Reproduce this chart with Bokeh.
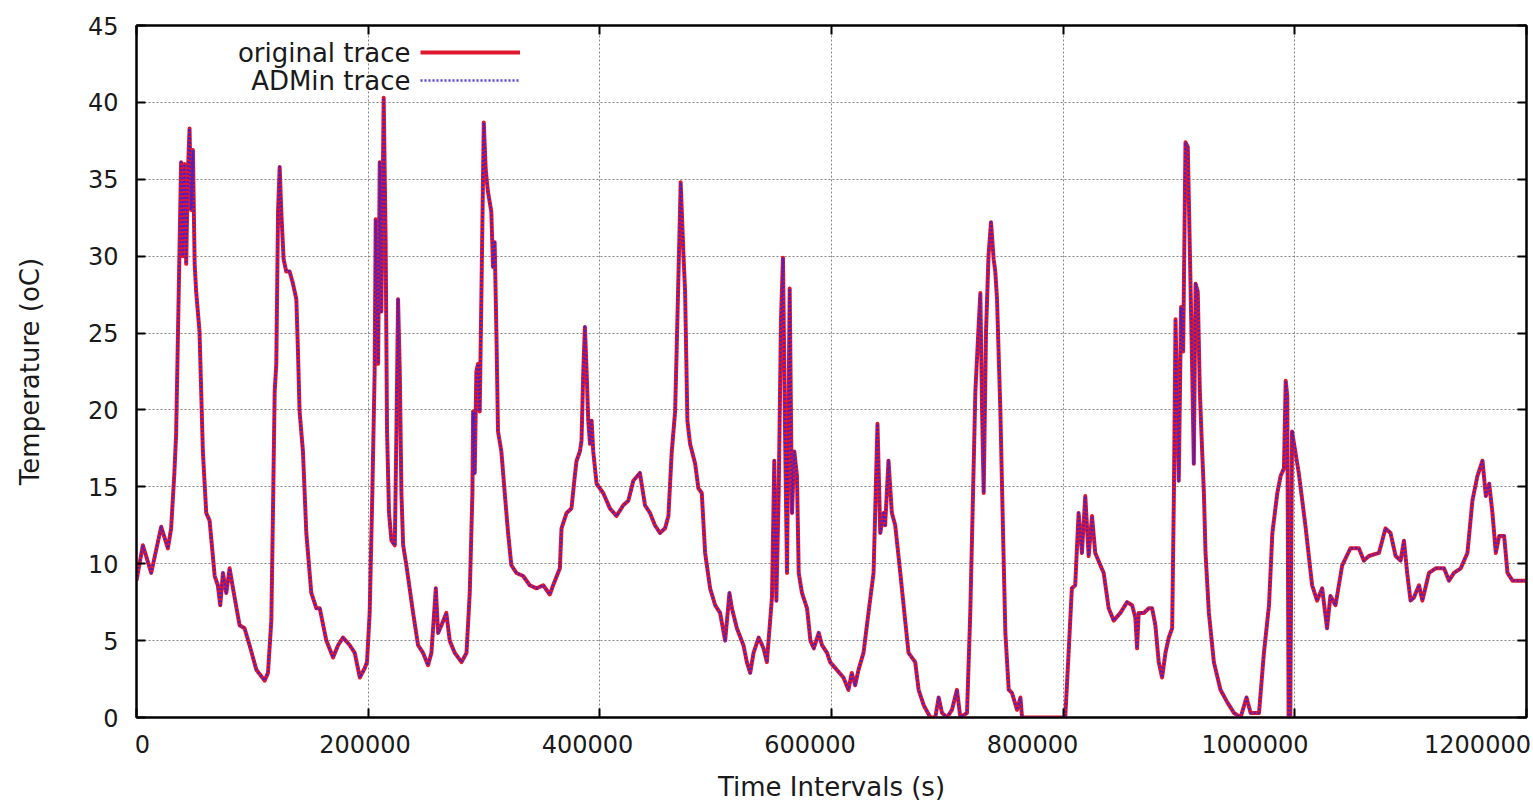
from bokeh.plotting import figure
from bokeh.models import Range1d, FixedTicker, LinearAxis, Legend, LegendItem, Label
from bokeh.embed import file_html
from bokeh.resources import INLINE
from bokeh.core.properties import value

# ---------------- data (time in s, temperature in oC) ----------------
seg_1 = [(0, 8.9), (5500, 11.2), (12700, 9.4), (21300, 12.4), (27100, 11.0), (29900, 12.3),
         (32700, 15.9), (34200, 18.4), (37100, 30.3), (38500, 36.1), (39900, 30.0), (41400, 36.0),
         (42900, 29.5), (44400, 35.5), (45800, 38.3), (47200, 33.0), (48700, 36.9), (50200, 29.5),
         (51500, 27.7), (54400, 25.1), (57300, 17.3), (60200, 13.3), (63100, 12.8), (67500, 9.2),
         (70200, 8.6), (72300, 7.3), (74600, 9.4), (77500, 8.1), (80400, 9.7), (83300, 8.4),
         (89000, 6.0), (93300, 5.8), (97600, 4.7), (103500, 3.1), (110600, 2.4), (113500, 2.9),
         (116400, 6.3), (117800, 13.3), (119300, 21.2), (120700, 23.0), (122200, 32.9), (123600, 35.8),
         (125000, 32.9), (127000, 29.8), (129300, 29.0), (132200, 29.0), (135100, 28.2), (138000, 27.2),
         (139400, 23.8), (140800, 19.9), (143700, 17.3), (146600, 12.0), (150900, 8.1), (155300, 7.1),
         (158200, 7.1), (163900, 5.0), (169700, 3.9), (174000, 4.7), (178300, 5.2), (184100, 4.7),
         (188400, 4.2), (192800, 2.6), (197000, 3.2)]
seg_2 = [(199000, 3.6), (201300, 6.8), (203600, 14.6), (205600, 22.5), (206500, 32.4), (208600, 23.0),
         (210000, 36.1), (211400, 26.4), (213400, 40.3), (215100, 30.9), (216300, 18.6), (218000, 13.3),
         (220100, 11.5), (223000, 11.2), (224400, 18.6), (225800, 27.2), (227300, 22.5), (228700, 14.6),
         (230200, 11.2), (233000, 9.9), (238800, 6.8), (243100, 4.7), (247400, 4.2), (251700, 3.4),
         (254600, 4.2), (258400, 8.4), (260400, 5.5), (263300, 6.0), (267500, 6.8), (270400, 5.0),
         (274800, 4.2), (280600, 3.6), (284900, 4.2), (287700, 8.1), (290000, 14.6), (290600, 19.9),
         (292000, 15.9), (293400, 22.5), (294900, 23.0), (296300, 19.9), (297800, 27.7), (299800, 38.7),
         (301500, 35.6), (303400, 34.2), (306300, 32.9), (307800, 29.3), (309200, 30.9), (310700, 25.1),
         (312100, 18.6), (315000, 17.3), (317900, 14.6), (320800, 12.0), (323600, 9.9), (328000, 9.4),
         (333800, 9.2), (339500, 8.6), (345300, 8.4), (351100, 8.6), (356800, 8.0), (359700, 8.6),
         (365500, 9.7), (366900, 12.3), (371300, 13.3), (375500, 13.6), (378400, 15.7), (379900, 16.7),
         (382800, 17.3), (384200, 18.0), (385700, 22.5), (387100, 25.4), (388600, 22.5), (390000, 19.3),
         (391500, 17.8), (392900, 19.3), (394300, 17.3), (397200, 15.2)]
seg_3 = [(402900, 14.6), (408700, 13.6), (414400, 13.1), (420200, 13.8), (424600, 14.1), (428900, 15.4),
         (434600, 15.9), (439000, 13.8), (443300, 13.3), (447600, 12.5), (451900, 12.0), (456300, 12.3),
         (459200, 13.1), (462100, 17.3), (465000, 19.9), (466300, 23.8), (467800, 28.5), (469800, 34.8),
         (472100, 30.3), (473600, 27.7), (475600, 19.3), (477900, 17.8), (482300, 16.5), (485100, 14.9),
         (488000, 14.6), (490900, 10.7), (495200, 8.4), (499600, 7.3), (503800, 6.8), (508200, 5.0),
         (511900, 8.1), (514000, 7.1), (518300, 5.8), (524000, 4.7), (526900, 3.6), (529800, 2.9),
         (532700, 4.2), (537100, 5.2), (541300, 4.5), (544200, 3.6), (548600, 7.8), (550600, 16.7),
         (552400, 7.6), (554400, 14.6), (556400, 25.9), (558100, 29.9), (560100, 17.3), (561600, 9.4),
         (563900, 27.9), (565900, 13.3), (567900, 17.3), (570200, 15.7), (571700, 9.4), (574500, 8.1),
         (578900, 7.1), (581800, 5.0), (584700, 4.5), (589000, 5.5), (591800, 4.7), (596200, 4.2)]
seg_4 = [(598800, 3.6), (604600, 3.1), (610300, 2.6), (614600, 1.8), (617500, 2.9), (620400, 2.1),
         (623300, 3.1), (627600, 4.2), (631900, 6.8), (636300, 9.4), (637700, 13.3), (639700, 19.1),
         (642100, 12.0), (645000, 13.3), (646300, 12.5), (649200, 16.7), (652100, 13.3), (655000, 12.5),
         (659400, 9.4), (663600, 6.3), (666500, 4.2), (672300, 3.6), (675200, 1.8), (679600, 0.8),
         (685300, 0.0), (689600, 0.0), (692500, 1.3), (695400, 0.3), (699600, 0.0), (704000, 0.5),
         (708300, 1.8), (711200, 0.0), (717000, 0.3), (719800, 6.8), (722200, 14.6), (724200, 21.2),
         (727100, 25.6), (728500, 27.6), (730000, 19.9), (731400, 14.6), (733400, 25.1), (735600, 30.1),
         (737700, 32.2), (740000, 29.8), (741400, 29.0), (742900, 27.2), (745800, 19.9), (748100, 12.0),
         (750100, 5.5), (753000, 1.8), (755800, 1.6), (760200, 0.5), (763100, 1.3), (764500, 0.0)]
seg_5 = [(801800, 0.0), (804700, 4.2), (807500, 8.4), (810400, 8.6), (813300, 13.3), (816200, 10.7),
         (819100, 14.4), (822000, 10.5), (824900, 13.1), (827700, 10.7), (832100, 9.9), (835000, 9.4),
         (839300, 7.1), (843600, 6.3), (849400, 6.8), (855200, 7.5), (859500, 7.3), (862300, 6.5),
         (863800, 4.5), (865200, 6.8), (869600, 6.8), (873900, 7.1), (876800, 7.1), (879600, 6.0),
         (882500, 3.6), (885400, 2.6), (888300, 4.2), (891200, 5.2), (894100, 5.8), (895600, 14.6),
         (897000, 25.9), (899800, 15.4), (901800, 26.7), (903600, 23.8), (905600, 37.4), (907600, 37.1),
         (909400, 30.3), (911400, 22.5), (912800, 16.5), (914300, 28.2), (916200, 27.7), (918000, 21.2),
         (920000, 17.3), (921500, 14.6), (922900, 10.7), (925800, 6.8), (930100, 3.6), (935800, 1.8),
         (941600, 1.0), (947400, 0.3), (953100, 0.0), (958300, 1.3), (961800, 0.3), (969100, 0.3),
         (973300, 4.2), (977700, 7.3), (980600, 12.0), (984900, 14.6), (987700, 15.7), (990600, 16.2),
         (992100, 21.9), (993500, 20.9)]
seg_6 = [(994600, 0.0), (996100, 0.0), (997600, 18.6), (1003400, 15.9), (1009100, 12.5),
         (1014900, 8.6), (1019200, 7.6), (1023600, 8.4), (1027800, 5.8), (1030700, 7.9), (1035100, 7.3),
         (1040900, 9.9), (1048000, 11.0), (1055300, 11.0), (1059600, 10.2), (1063900, 10.5),
         (1072600, 10.7), (1078300, 12.3), (1082600, 12.0), (1087000, 10.5), (1091300, 10.2),
         (1094200, 11.5), (1097000, 9.4), (1099900, 7.6), (1102800, 7.8), (1107200, 8.6), (1110100, 7.6),
         (1115800, 9.4), (1121600, 9.7), (1128800, 9.7), (1133100, 8.9), (1137400, 9.4), (1143200, 9.7),
         (1149000, 10.7), (1153300, 14.1), (1157600, 15.7), (1162000, 16.7), (1164900, 14.4),
         (1167800, 15.2), (1170600, 13.3), (1173500, 10.7), (1176400, 11.8), (1180700, 11.8),
         (1183600, 9.4), (1187900, 8.9), (1200000, 8.9)]

segments = [seg_1, seg_2, seg_3, seg_4, seg_5, seg_6]
time_s = [t for seg in segments for t, _ in seg]
original_temp = [v for seg in segments for _, v in seg]
admin_temp = [v for seg in segments for _, v in seg]   # ADMin trace follows the original

x_ticks = [0, 200000, 400000, 600000, 800000, 1000000, 1200000]
x_tick_labels = ["0", "200000", "400000", "600000", "800000", "1000000", "1200000"]
y_ticks = [0, 5, 10, 15, 20, 25, 30, 35, 40, 45]
y_tick_labels = ["0", "5", "10", "15", "20", "25", "30", "35", "40", "45"]
series_names = ["original trace", "ADMin trace"]
x_title = "Time Intervals (s)"
y_title = "Temperature (oC)"

FONT = "DejaVu Sans"
TXT = "#1a1a1a"
RED = "#e0182f"
BLUE = "#3b1fd6"

p = figure(width=1533, height=805, output_backend="svg", toolbar_location=None,
           x_range=Range1d(0, 1200000), y_range=Range1d(0, 45),
           min_border_left=136, min_border_right=7, min_border_top=25, min_border_bottom=88,
           background_fill_color="white", border_fill_color="white")
p.outline_line_color = "black"
p.outline_line_width = 2

xt = FixedTicker(ticks=x_ticks)
yt = FixedTicker(ticks=y_ticks)
xax = p.below[0]
yax = p.left[0]
xax.ticker = xt
yax.ticker = yt
p.xgrid.ticker = xt
p.ygrid.ticker = yt


def tick_style(ax):
    ax.axis_line_color = "black"
    ax.axis_line_width = 2
    ax.major_tick_in = 9
    ax.major_tick_out = 0
    ax.major_tick_line_color = "black"
    ax.major_tick_line_width = 2
    ax.minor_tick_line_color = None


# bottom axis: ticks only (labels are drawn by the label axis below it)
tick_style(xax)
xax.major_label_overrides = {t: "" for t in x_ticks}
xax.major_label_text_font_size = "1px"
xax.major_label_standoff = 0

# left axis
tick_style(yax)
yax.major_label_overrides = dict(zip(y_ticks, y_tick_labels))
yax.major_label_text_font = FONT
yax.major_label_text_font_size = "24px"
yax.major_label_text_color = TXT
yax.major_label_standoff = 18
yax.axis_label = y_title
yax.axis_label_text_font = FONT
yax.axis_label_text_font_size = "26px"
yax.axis_label_text_font_style = "normal"
yax.axis_label_text_color = TXT
yax.axis_label_standoff = 40

# x tick labels, laid out as in the reference
p.extra_x_ranges = {"lbl": Range1d(-5393, 1244045)}
lab_ax = LinearAxis(x_range_name="lbl", ticker=FixedTicker(ticks=x_ticks),
                    major_label_overrides=dict(zip(x_ticks, x_tick_labels)),
                    major_tick_in=0, major_tick_out=0, major_tick_line_color=None,
                    minor_tick_line_color=None, axis_line_color=None,
                    major_label_text_font=FONT, major_label_text_font_size="24px",
                    major_label_text_color=TXT, major_label_standoff=17,
                    axis_label=x_title, axis_label_text_font=FONT, axis_label_text_font_size="26px",
                    axis_label_text_font_style="normal", axis_label_text_color=TXT,
                    axis_label_standoff=16)
p.add_layout(lab_ax, "below")

# mirrored ticks on the right and top borders (gnuplot style)
for loc, tk, ticks in (("right", yt, y_ticks), ("above", xt, x_ticks)):
    ax = LinearAxis(ticker=tk, major_label_overrides={t: "" for t in ticks},
                    major_label_text_font_size="1px", major_label_standoff=0)
    tick_style(ax)
    p.add_layout(ax, loc)

p.grid.grid_line_color = "#6e6e6e"
p.grid.grid_line_dash = "2 2"
p.grid.grid_line_width = 1
p.grid.grid_line_alpha = 0.85

r_orig = p.line(time_s, original_temp, line_color=RED, line_width=4, line_join="round")
r_admin = p.line(time_s, admin_temp, line_color=BLUE, line_width=2.5, line_dash="2 2",
                 line_alpha=0.85, line_join="round")

# key: text to the left, sample line to the right (as in gnuplot)
legend = Legend(items=[LegendItem(label=value(" "), renderers=[r_orig]),
                       LegendItem(label=value(" "), renderers=[r_admin])],
                location=(284, 623), glyph_width=100, glyph_height=28,
                label_width=0, label_height=28, label_standoff=0, padding=0, spacing=0, margin=0,
                label_text_font_size="8px", background_fill_alpha=0, border_line_alpha=0)
p.add_layout(legend)

for name, yv in zip(series_names, (43.24, 41.42)):
    p.add_layout(Label(x=236500, y=yv, text=name, text_align="right", text_baseline="middle",
                       text_font=FONT, text_font_size="26px", text_color=TXT))

open("out.html", "w").write(file_html(p, INLINE))
